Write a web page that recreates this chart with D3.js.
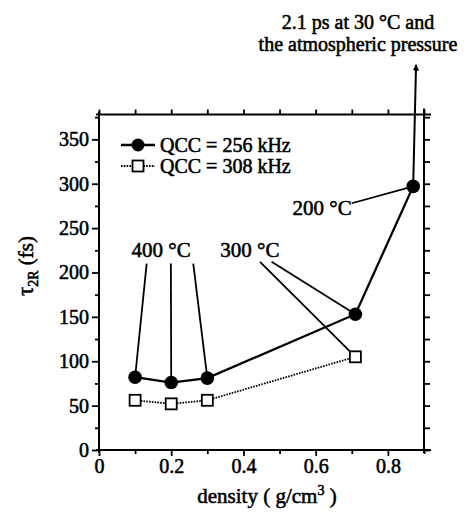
<!DOCTYPE html>
<html>
<head>
<meta charset="utf-8">
<script src="https://cdn.jsdelivr.net/npm/d3@7"></script>
<style>
  html, body { margin: 0; padding: 0; background: #fff; }
  svg { display: block; }
  text { font-family: "Liberation Serif", "Times New Roman", serif; fill: #000; }
</style>
</head>
<body>
<svg id="chart" width="472" height="513"></svg>
<script>
// ---- data ----
const density = [0.1, 0.2, 0.3, 0.71, 0.87];
const tau256 = [82, 76, 81, 153, 297];
const density308 = [0.1, 0.2, 0.3, 0.71];
const tau308 = [56, 52, 56, 105];
const seriesLabels = ["QCC = 256 kHz", "QCC = 308 kHz"];
const xTicks = [0, 0.2, 0.4, 0.6, 0.8];
const yTicks = [0, 50, 100, 150, 200, 250, 300, 350];

// annotation leader lines: [fromX, fromY] -> index of point
const lead400 = [[0.132, 210, 0], [0.199, 210, 1], [0.261, 210, 2]];
const lead300 = [[0.446, 212, "open", 3], [0.478, 212, "filled", 3]];
const lead200 = [[0.700, 278, 4]];
const arrowTip = [0.878, 434];
const tempLabels = [
  { text: "400 °C", x: 0.172, y: 217, anchor: "middle" },
  { text: "300 °C", x: 0.418, y: 217, anchor: "middle" },
  { text: "200 °C", x: 0.700, y: 265, anchor: "end" }
];
const noteLines = ["2.1 ps at 30 °C and", "the atmospheric pressure"];

// ---- layout ----
const svg = d3.select("#chart");
const x = d3.scaleLinear().domain([0, 0.9]).range([99, 424]);
const y = d3.scaleLinear().domain([0, 378]).range([450, 114.5]);

const fontSize = 20;
const sw = 0.55; // text stroke to mimic the heavy scanned type

// axes
const gx = svg.append("g").attr("transform", `translate(0,${y(0)})`)
  .call(d3.axisBottom(x).tickValues(xTicks).tickFormat(d => d === 0 ? "0" : d3.format(".1f")(d)).tickSize(6).tickPadding(3));
const gxMinor = svg.append("g").attr("transform", `translate(0,${y(0)})`)
  .call(d3.axisBottom(x).tickValues([0.1, 0.3, 0.5, 0.7, 0.9]).tickFormat("").tickSize(4));
const gxTop = svg.append("g").attr("transform", `translate(0,${y(378)})`)
  .call(d3.axisTop(x).tickValues(d3.range(0, 10).map(i => i / 10)).tickFormat("").tickSize(5));
const gy = svg.append("g").attr("transform", `translate(${x(0)},0)`)
  .call(d3.axisLeft(y).tickValues(yTicks).tickSize(7).tickPadding(3));
const gyMinor = svg.append("g").attr("transform", `translate(${x(0)},0)`)
  .call(d3.axisLeft(y).tickValues(d3.range(25, 378, 50)).tickFormat("").tickSize(4));
const gyRight = svg.append("g").attr("transform", `translate(${x(0.9)},0)`)
  .call(d3.axisRight(y).tickValues(d3.range(0, 376, 25)).tickFormat("").tickSize(6));

[gx, gxMinor, gxTop, gy, gyMinor, gyRight].forEach(g => {
  g.select(".domain").remove();
  g.selectAll(".tick line").attr("stroke", "#000").attr("stroke-width", 1.8);
  g.selectAll("text").attr("font-size", fontSize).attr("font-family", "Liberation Serif").attr("fill", "#000")
    .attr("stroke", "#000").attr("stroke-width", sw);
});

// frame lines (slightly extended like the original)
svg.append("line").attr("x1", x(0) - 3).attr("x2", x(0.9) + 7).attr("y1", y(0)).attr("y2", y(0)).attr("stroke", "#000").attr("stroke-width", 2);
svg.append("line").attr("x1", x(0) - 3).attr("x2", x(0.9) + 7).attr("y1", y(378)).attr("y2", y(378)).attr("stroke", "#000").attr("stroke-width", 2);
svg.append("line").attr("x1", x(0)).attr("x2", x(0)).attr("y1", y(378) - 3).attr("y2", y(0) + 3).attr("stroke", "#000").attr("stroke-width", 2);
svg.append("line").attr("x1", x(0.9)).attr("x2", x(0.9)).attr("y1", y(378) - 6).attr("y2", y(0) + 3).attr("stroke", "#000").attr("stroke-width", 2);

// axis titles
const xt = svg.append("text").attr("x", 267).attr("y", 503).attr("text-anchor", "middle")
  .attr("font-size", 21).attr("stroke", "#000").attr("stroke-width", sw);
xt.append("tspan").text("density ( g/cm");
xt.append("tspan").attr("font-size", 14).attr("dy", -8).text("3");
xt.append("tspan").attr("dy", 8).text(" )");

const yt = svg.append("text").attr("transform", "translate(33,266) rotate(-90)").attr("text-anchor", "middle")
  .attr("font-size", 21).attr("stroke", "#000").attr("stroke-width", sw);
yt.append("tspan").attr("font-size", 23).text("τ");
yt.append("tspan").attr("font-size", 14).attr("dy", 5).text("2R");
yt.append("tspan").attr("dy", -5).text(" (fs)");

// annotation leader lines (drawn beneath markers)
const ann = svg.append("g").attr("stroke", "#000").attr("stroke-width", 1.8).attr("fill", "none");
lead400.forEach(([fx, fy, i]) => {
  ann.append("line").attr("x1", x(fx)).attr("y1", y(fy)).attr("x2", x(density[i])).attr("y2", y(tau256[i]));
});
lead300.forEach(([fx, fy, kind, i]) => {
  const ty = kind === "open" ? tau308[i] : tau256[i];
  ann.append("line").attr("x1", x(fx)).attr("y1", y(fy)).attr("x2", x(density[i])).attr("y2", y(ty));
});
lead200.forEach(([fx, fy, i]) => {
  ann.append("line").attr("x1", x(fx)).attr("y1", y(fy)).attr("x2", x(density[i])).attr("y2", y(tau256[i]));
});
// arrow
svg.append("defs").append("marker").attr("id", "arr").attr("viewBox", "0 0 10 10")
  .attr("refX", 9).attr("refY", 5).attr("markerWidth", 3.2).attr("markerHeight", 4.5).attr("orient", "auto")
  .attr("markerUnits", "strokeWidth")
  .append("path").attr("d", "M0,0 L10,5 L0,10 Z").attr("fill", "#000");
svg.append("line").attr("x1", x(density[4])).attr("y1", y(tau256[4])).attr("x2", x(arrowTip[0])).attr("y2", y(arrowTip[1]))
  .attr("stroke", "#000").attr("stroke-width", 2).attr("marker-end", "url(#arr)");

// series lines
const line = d3.line().x(d => x(d[0])).y(d => y(d[1]));
svg.append("path").datum(density308.map((d, i) => [d, tau308[i]])).attr("d", line)
  .attr("fill", "none").attr("stroke", "#000").attr("stroke-width", 1.8).attr("stroke-dasharray", "1.6,1.2");
svg.append("path").datum(density.map((d, i) => [d, tau256[i]])).attr("d", line)
  .attr("fill", "none").attr("stroke", "#000").attr("stroke-width", 2.3);

// markers
svg.selectAll(".sq").data(density308.map((d, i) => [d, tau308[i]])).join("rect")
  .attr("x", d => x(d[0]) - 5.5).attr("y", d => y(d[1]) - 5.5).attr("width", 11).attr("height", 11)
  .attr("fill", "#fff").attr("stroke", "#000").attr("stroke-width", 1.8);
svg.selectAll(".ci").data(density.map((d, i) => [d, tau256[i]])).join("circle")
  .attr("cx", d => x(d[0])).attr("cy", d => y(d[1])).attr("r", 6.8).attr("fill", "#000");

// temperature labels
tempLabels.forEach(t => {
  svg.append("text").attr("x", x(t.x)).attr("y", y(t.y)).attr("text-anchor", t.anchor)
    .attr("font-size", 21).attr("stroke", "#000").attr("stroke-width", sw).text(t.text);
});

// note at top
noteLines.forEach((s, i) => {
  svg.append("text").attr("x", 358).attr("y", 29 + i * 21.5).attr("text-anchor", "middle")
    .attr("font-size", 20).attr("stroke", "#000").attr("stroke-width", sw).text(s);
});

// legend
const lg = svg.append("g");
const rows = [145, 166];
lg.append("line").attr("x1", 121).attr("x2", 155).attr("y1", rows[0]).attr("y2", rows[0]).attr("stroke", "#000").attr("stroke-width", 2.3);
lg.append("circle").attr("cx", 138).attr("cy", rows[0]).attr("r", 6.5).attr("fill", "#000");
lg.append("line").attr("x1", 121).attr("x2", 155).attr("y1", rows[1]).attr("y2", rows[1]).attr("stroke", "#000").attr("stroke-width", 1.8).attr("stroke-dasharray", "1.6,1.2");
lg.append("rect").attr("x", 138 - 5.5).attr("y", rows[1] - 5.5).attr("width", 11).attr("height", 11).attr("fill", "#fff").attr("stroke", "#000").attr("stroke-width", 1.8);
seriesLabels.forEach((s, i) => {
  lg.append("text").attr("x", 160).attr("y", rows[i] + 7).attr("font-size", 20)
    .attr("stroke", "#000").attr("stroke-width", sw).text(s);
});
</script>
</body>
</html>
